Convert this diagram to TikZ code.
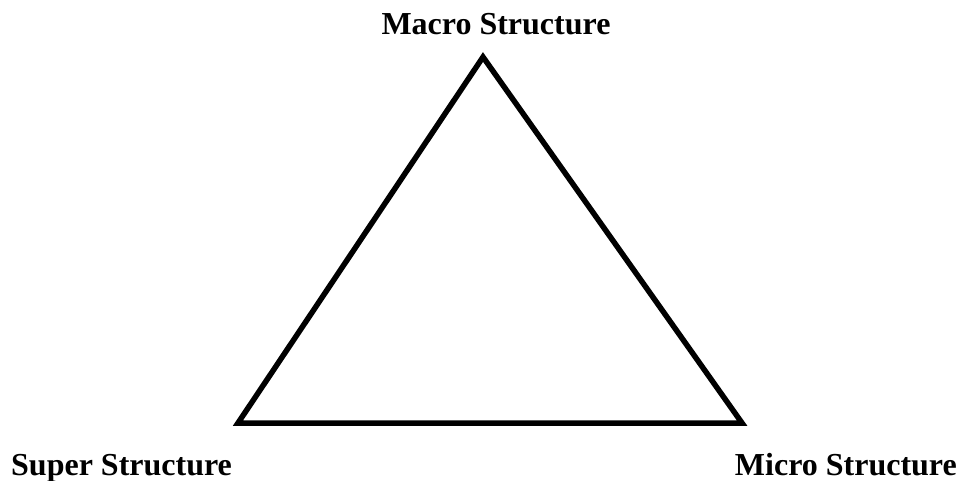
\documentclass[tikz,border=0pt]{standalone}
\usepackage{fontspec}
\setmainfont{Liberation Serif}
\begin{document}
\begin{tikzpicture}[x=1pt,y=-1pt,
  lbl/.style={font=\fontsize{32}{38}\selectfont\bfseries, inner sep=0pt},
  edge/.style={line width=5.5pt, line join=miter}]
\useasboundingbox (0,0) rectangle (960,481);
\coordinate (top) at (483,57);
\coordinate (bl) at (238,423);
\coordinate (br) at (742,423);
\draw[edge] (top) -- (br) -- (bl) -- cycle;
\node[lbl, anchor=base] (macro) at (496,35) {Macro Structure};
\node[lbl, anchor=base west] (super) at (11,475) {Super Structure};
\node[lbl, anchor=base east] (micro) at (957,475) {Micro Structure};
\end{tikzpicture}
\end{document}
